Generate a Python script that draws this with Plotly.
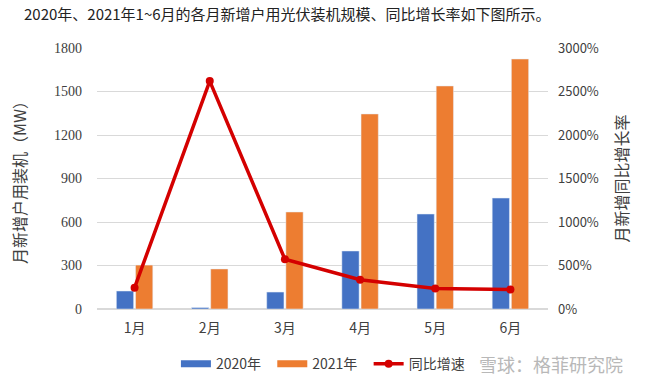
import plotly.graph_objects as go

months = ["1月", "2月", "3月", "4月", "5月", "6月"]
y2020 = [124, 10, 117, 400, 655, 765]
y2021 = [303, 276, 669, 1345, 1538, 1724]
growth = [245, 2620, 572, 336, 235, 225]

title_text = "2020年、2021年1~6月的各月新增户用光伏装机规模、同比增长率如下图所示。"
left_title = "月新增户用装机（MW）"
right_title = "月新增同比增长率"
left_ticks = [0, 300, 600, 900, 1200, 1500, 1800]
right_ticks = [0, 500, 1000, 1500, 2000, 2500, 3000]
right_ticktext = [f"{v}%" for v in right_ticks]

FONT = "Noto Sans CJK SC, sans-serif"
BLUE = "#4472C4"
ORANGE = "#ED7D31"
RED = "#D40000"
NB = "\u00a0"

fig = go.Figure()
fig.add_trace(go.Bar(x=months, y=y2020, name="2020年", marker_color=BLUE, showlegend=False))
fig.add_trace(go.Bar(x=months, y=y2021, name="2021年", marker_color=ORANGE, showlegend=False))
fig.add_trace(go.Scatter(x=months, y=growth, name="同比增速", yaxis="y2",
                         mode="lines+markers",
                         line=dict(color=RED, width=3.5),
                         marker=dict(color=RED, size=8), showlegend=False))
# legend entries with wide rectangular swatches
fig.add_trace(go.Scatter(x=[None], y=[None], name="2020年" + NB * 2, mode="lines",
                         line=dict(color=BLUE, width=7)))
fig.add_trace(go.Scatter(x=[None], y=[None], name="2021年" + NB * 2, mode="lines",
                         line=dict(color=ORANGE, width=7)))
fig.add_trace(go.Scatter(x=[None], y=[None], name="同比增速", mode="lines+markers",
                         line=dict(color=RED, width=3.5), marker=dict(color=RED, size=8)))

fig.update_layout(
    width=645, height=383,
    margin=dict(l=97, r=97, t=48, b=74, autoexpand=False),
    paper_bgcolor="white", plot_bgcolor="white",
    font=dict(family=FONT, color="#404040", size=13),
    barmode="group", bargap=0.49, bargroupgap=0.1,
    showlegend=True,
    legend=dict(orientation="h", x=0.175, xanchor="left", y=-0.15, yanchor="top",
                font=dict(size=14, color="#404040"), traceorder="normal",
                itemwidth=30, tracegroupgap=0),
    xaxis=dict(showgrid=False, showline=False, ticks="", tickfont=dict(size=14),
               ticklabelstandoff=9, automargin=False),
    yaxis=dict(range=[0, 1800], tickvals=left_ticks, showgrid=True, gridcolor="#D9D9D9",
               gridwidth=1, zeroline=True, zerolinecolor="#D9D9D9", showline=False,
               ticks="", tickfont=dict(size=14, family="Liberation Serif, serif"),
               ticklabelstandoff=14, automargin=False,
               title=dict(text=left_title, font=dict(size=16, color="#404040"), standoff=23)),
    yaxis2=dict(range=[0, 3000], tickvals=right_ticks, ticktext=right_ticktext,
                overlaying="y", side="right", showgrid=False, zeroline=False, showline=False,
                ticks="", tickfont=dict(size=13), ticklabelstandoff=9, automargin=False,
                title=dict(text=right_title, font=dict(size=16, color="#404040"), standoff=18)),
    annotations=[
        dict(text=title_text, xref="paper", yref="paper", x=-0.167, y=1.0,
             xanchor="left", yanchor="middle", yshift=35, showarrow=False,
             font=dict(size=15, color="#222222")),
        dict(text="雪球：格菲研究院", xref="paper", yref="paper", x=1.17, y=-0.21,
             xanchor="right", yanchor="middle", showarrow=False,
             font=dict(size=18, color="#B8B8B8")),
    ],
)

fig.write_html("out.html", config={"displayModeBar": False},
               post_script="document.body.style.margin='0';")
